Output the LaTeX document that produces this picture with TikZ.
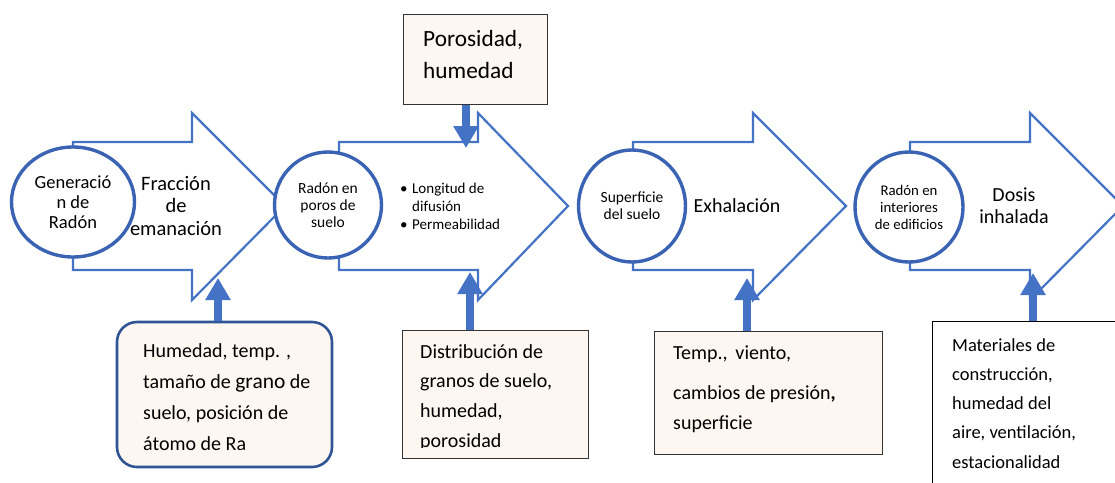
\documentclass[tikz,border=0pt]{standalone}
\usepackage{fontspec}
\setmainfont{Carlito}
\usetikzlibrary{arrows.meta,shapes.geometric}
\definecolor{arrowblue}{HTML}{4472C4}
\definecolor{circblue}{HTML}{3A63B3}
\definecolor{boxfill}{HTML}{FEF6F0}
\definecolor{boxblue}{HTML}{2F5597}
\definecolor{boxgray}{HTML}{333333}
\newcommand{\fs}[2]{\fontsize{#1pt}{#2pt}\selectfont}
\begin{document}
\begin{tikzpicture}[x=1pt,y=-1pt,
  bigarrow/.style={draw=arrowblue,line width=2.2pt,fill=white,line join=miter},
  stage/.style={ellipse,draw=circblue,line width=3.4pt,fill=white,inner sep=0pt,align=center},
  label/.style={inner sep=0pt,align=center},
  infobox/.style={rectangle,draw=boxgray,line width=1pt,fill=boxfill,inner sep=0pt},
  infotext/.style={inner sep=0pt,align=left,anchor=north west,font=\fs{20}{30}},
  factor/.style={draw=arrowblue,line width=8pt,-{Triangle[width=24pt,length=22pt]}}
]
\useasboundingbox (0,0) rectangle (1115,482);
\fill[white] (0,0) rectangle (1115,482);

% big arrows
\draw[bigarrow] (73,142) -- (192,142) -- (192,113) -- (285,206) -- (192,300) -- (192,270) -- (73,270) -- cycle;
\draw[bigarrow] (339,142) -- (478,142) -- (478,113) -- (568,206) -- (478,300) -- (478,270) -- (339,270) -- cycle;
\draw[bigarrow] (633,142) -- (753,142) -- (753,113) -- (846,206) -- (753,300) -- (753,270) -- (633,270) -- cycle;
\draw[bigarrow] (910,142) -- (1030,142) -- (1030,113) -- (1123,206) -- (1030,300) -- (1030,270) -- (910,270) -- cycle;

% stage circles
\node[stage,minimum width=123pt,minimum height=110pt,font=\fs{18.5}{20}] (c1) at (73,202) {Generació\\n de\\Radón};
\node[stage,minimum width=107pt,minimum height=106pt,font=\fs{15.5}{17}] (c2) at (328,205) {Radón en\\poros de\\suelo};
\node[stage,minimum width=107pt,minimum height=112pt,font=\fs{15.5}{17}] (c3) at (632,206) {Superficie\\del suelo};
\node[stage,minimum width=108pt,minimum height=110pt,font=\fs{14.8}{17}] (c4) at (909,207) {Radón en\\interiores\\de edificios};

% arrow labels
\node[label,font=\fs{20.5}{22.5}] (l1) at (176,206) {Fracción\\de\\emanación};
\node[label,font=\fs{15}{18},align=left,anchor=west] (l2) at (400,206) {\makebox[12pt][l]{•}Longitud de\\\makebox[12pt][l]{}difusión\\\makebox[12pt][l]{•}Permeabilidad};
\node[label,font=\fs{20}{22}] (l3) at (737,206) {Exhalación};
\node[label,font=\fs{20}{22}] (l4) at (1014,206) {Dosis\\inhalada};

% top box
\node[infobox,minimum width=144pt,minimum height=90pt] (bp) at (475,59) {};
\node[infotext,font=\fs{23.3}{32}] (tp) at (423,30) {Porosidad,\\humedad};
\coordinate (ap) at (466,148);
\draw[factor] (ap |- bp.south) -- (ap);

% bottom boxes
\node[infobox,draw=boxblue,line width=2.6pt,rounded corners=20pt,minimum width=215pt,minimum height=145pt] (b1) at (224.5,394.5) {};
\node[infotext,font=\fs{20}{31.3}] (t1) at (143,343) {Humedad, temp. ,\\tamaño de {\fontsize{21.5pt}{31.3pt}\selectfont grano} de\\suelo, posición de\\átomo de Ra};
\coordinate (a1) at (218,278);
\draw[factor] (a1 |- b1.north) -- (a1);

\node[infobox,minimum width=186pt,minimum height=128pt] (b2) at (495,394) {};
\begin{scope}
\clip (402,330) rectangle (588,447);
\node[infotext,font=\fs{20}{29.7}] (t2) at (420,344) {Distribución de\\granos de suelo,\\humedad,\\porosidad};
\end{scope}
\coordinate (a2) at (470,272);
\draw[factor] (a2 |- b2.north) -- (a2);

\node[infobox,minimum width=228pt,minimum height=123pt] (b3) at (768,392.5) {};
\node[infotext,font=\fs{20}{30}] (t3) at (673,346) {Temp.,\, viento,\\[10pt]cambios de presión\textbf{,}\\superficie};
\coordinate (a3) at (747,278);
\draw[factor] (a3 |- b3.north) -- (a3);

\begin{scope}
\clip (0,0) rectangle (1115,482);
\node[rectangle,draw=black,line width=1pt,fill=white,inner sep=0pt,minimum width=200pt,minimum height=180pt,anchor=north west] (b4) at (932,321) {};
\end{scope}
\node[infotext,font=\fs{18.5}{29.3}] (t4) at (952,338) {Materiales de\\construcción,\\humedad del\\aire, ventilación,\\estacionalidad};
\coordinate (a4) at (1033,273);
\draw[factor] (a4 |- b4.north) -- (a4);
\end{tikzpicture}
\end{document}
